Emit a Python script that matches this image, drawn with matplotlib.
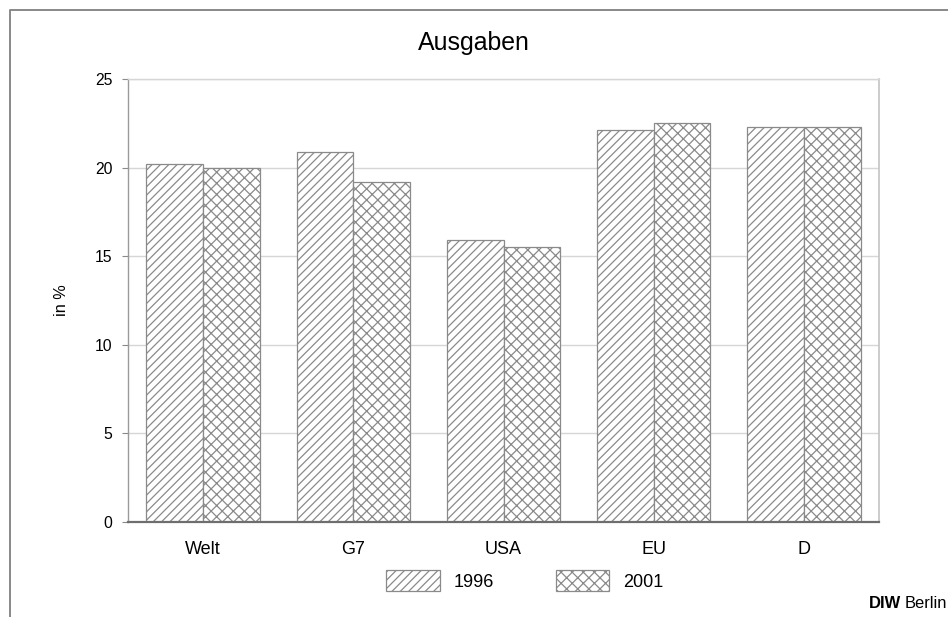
import matplotlib
matplotlib.use("Agg")
import matplotlib.pyplot as plt
import numpy as np
from matplotlib.lines import Line2D

plt.rcParams['font.family'] = ['Liberation Sans', 'DejaVu Sans']
plt.rcParams['hatch.linewidth'] = 0.9
plt.rcParams['hatch.color'] = '#7a7a7a'

categories = ["Welt", "G7", "USA", "EU", "D"]
series_names = ["1996", "2001"]
values_1996 = [20.2, 20.9, 15.9, 22.1, 22.3]
values_2001 = [20.0, 19.2, 15.5, 22.5, 22.3]
yticks = [0, 5, 10, 15, 20, 25]

W, H = 948, 617
fig = plt.figure(figsize=(W / 100, H / 100), dpi=100)
ax = fig.add_axes([128 / W, 1 - 522 / H, (879 - 128) / W, (522 - 79) / H])

x = np.arange(len(categories))
bw = 0.377
ax.bar(x - bw / 2, values_1996, bw, facecolor='white', edgecolor='#8a8a8a',
       hatch='////', linewidth=0.9, label=series_names[0], zorder=3)
ax.bar(x + bw / 2, values_2001, bw, facecolor='white', edgecolor='#8a8a8a',
       hatch='xxx', linewidth=0.9, label=series_names[1], zorder=3)

ax.set_xlim(-0.5, len(categories) - 0.5)
ax.set_ylim(0, 25)
ax.set_yticks(yticks)
ax.set_yticklabels([str(t) for t in yticks], fontsize=11.3)
ax.set_xticks(x)
ax.set_xticklabels(categories, fontsize=13)
ax.tick_params(axis='x', length=0, pad=14)
ax.tick_params(axis='y', length=4.3, width=0.8, color='#8a8a8a', pad=7)
ax.yaxis.grid(True, color='#d6d6d6', linewidth=1.0, zorder=0)
ax.set_axisbelow(True)

ax.spines['left'].set_color('#9a9a9a')
ax.spines['left'].set_linewidth(1.0)
ax.spines['right'].set_color('#c4c4c4')
ax.spines['right'].set_linewidth(1.2)
ax.spines['top'].set_color('#d6d6d6')
ax.spines['top'].set_linewidth(1.0)
ax.spines['bottom'].set_color('#6e6e6e')
ax.spines['bottom'].set_linewidth(1.6)
ax.spines['bottom'].set_zorder(4)

ax.set_ylabel("in %", fontsize=11.7, labelpad=30)
ax.yaxis.set_label_coords(-(128 - 69) / (879 - 128), 0.5)

fig.text(474 / W, 1 - 43 / H, "Ausgaben", fontsize=17.9, ha='center', va='center')

leg = fig.legend(loc='center', bbox_to_anchor=(525 / W, 1 - 580.5 / H), ncol=2,
                 frameon=False, fontsize=13, handlelength=2.95, handleheight=1.37,
                 handletextpad=0.77, columnspacing=3.44, borderpad=0)

# frame lines (left and top)
fig.add_artist(Line2D([10 / W, 10 / W, 1.0], [0.0, 1 - 10 / H, 1 - 10 / H],
                      transform=fig.transFigure, color='#808080', linewidth=1.3))

fig.text(869 / W, 1 - 604 / H, "DIW", fontsize=11.9, fontweight='bold',
         ha='left', va='center')
fig.text(905 / W, 1 - 604 / H, "Berlin", fontsize=11.9, ha='left', va='center')

fig.savefig("out.png", dpi=100)
